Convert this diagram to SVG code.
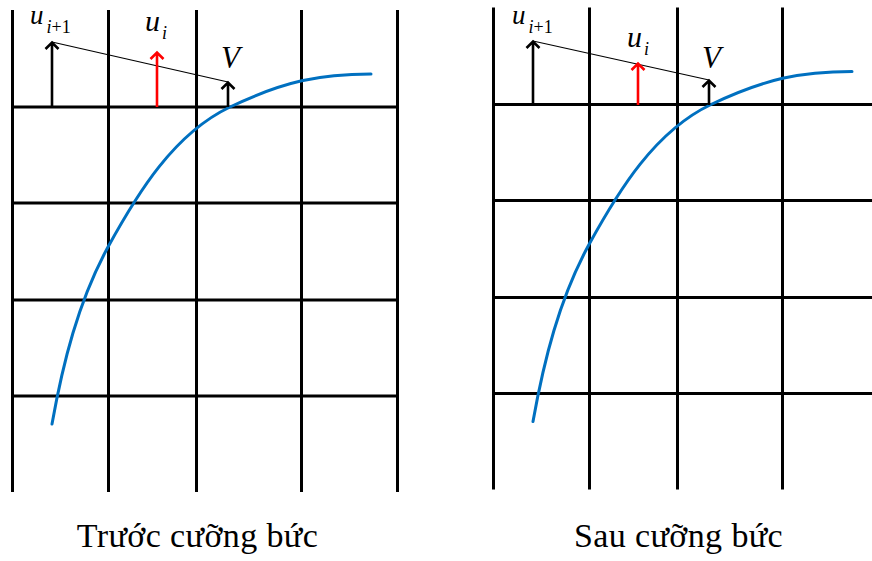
<svg xmlns="http://www.w3.org/2000/svg" width="872" height="561" viewBox="0 0 872 561">
<style>
.grid{stroke:#000;stroke-width:3;fill:none}
.curve{stroke:#0070C0;stroke-width:3;fill:none;stroke-linecap:round}
.arr{stroke:#000;stroke-width:2.6;fill:none}
.red{stroke:#FF0000}
.thin{stroke:#000;stroke-width:1.2;fill:none}
.m{font-family:"Liberation Serif","Times New Roman",serif;font-style:italic;font-size:30px;fill:#000}
.s{font-size:18px}
.up{font-style:normal}
.cap{font-family:"Liberation Serif","Times New Roman",serif;font-size:34px;fill:#000;text-anchor:middle;letter-spacing:0.4px}
</style>
<defs>
<g id="gridShape">
<path class="grid" d="M12.5,10V492M108.5,10V492M196.5,10V492M301.5,10V492M397.5,10V492M11,107H399M11,203H399M11,300H399M11,396H399"/>
</g>
<path id="curveShape" class="curve" d="M52,424C62.9,362.9 78.3,301.4 108,247C137.8,192.6 174,133.7 230,107C284.2,81.2 320,74 371,74"/>
</defs>

<g id="panel-before">
<g id="grid-before"><use href="#gridShape"/></g>
<g id="curve-before"><use href="#curveShape"/></g>
<g id="connectors-before">
<line class="thin" x1="52" y1="42" x2="228" y2="82"/>
<path class="arr" d="M52,107V43M45.5,49L52,42.5L58.5,49"/>
<path class="arr red" d="M157,107V53M150.5,59L157,52.5L163.5,59"/>
<path class="arr" d="M228,107V83M221.5,89L228,82.5L234.5,89"/>
</g>
<g id="labels-before">
<text class="m" x="30" y="24" style="font-size:27px">u<tspan class="s" dx="3" dy="9">i</tspan><tspan class="s up">+1</tspan></text>
<text class="m" x="145" y="31">u<tspan class="s" dx="2" dy="8">i</tspan></text>
<text class="m" x="221" y="68" style="font-size:31px">V</text>
</g>
<text id="caption-before" class="cap" x="197.5" y="547">Trước cưỡng bức</text>
</g>

<g id="panel-after">
<g id="grid-after" transform="translate(481,-2.5)"><use href="#gridShape"/></g>
<g id="curve-after" transform="translate(481,-2.5)"><use href="#curveShape"/></g>
<g id="connectors-after">
<line class="thin" x1="533" y1="41" x2="709" y2="80"/>
<path class="arr" d="M533,105V42M526.5,48L533,41.5L539.5,48"/>
<path class="arr red" d="M638,105V64M631.5,70L638,63.5L644.5,70"/>
<path class="arr" d="M709,105V81M702.5,87L709,80.5L715.5,87"/>
</g>
<g id="labels-after">
<text class="m" x="512" y="24" style="font-size:27px">u<tspan class="s" dx="3" dy="9">i</tspan><tspan class="s up">+1</tspan></text>
<text class="m" x="627" y="47">u<tspan class="s" dx="2" dy="8">i</tspan></text>
<text class="m" x="702" y="68" style="font-size:31px">V</text>
</g>
<text id="caption-after" class="cap" x="678.5" y="547">Sau cưỡng bức</text>
</g>
</svg>
